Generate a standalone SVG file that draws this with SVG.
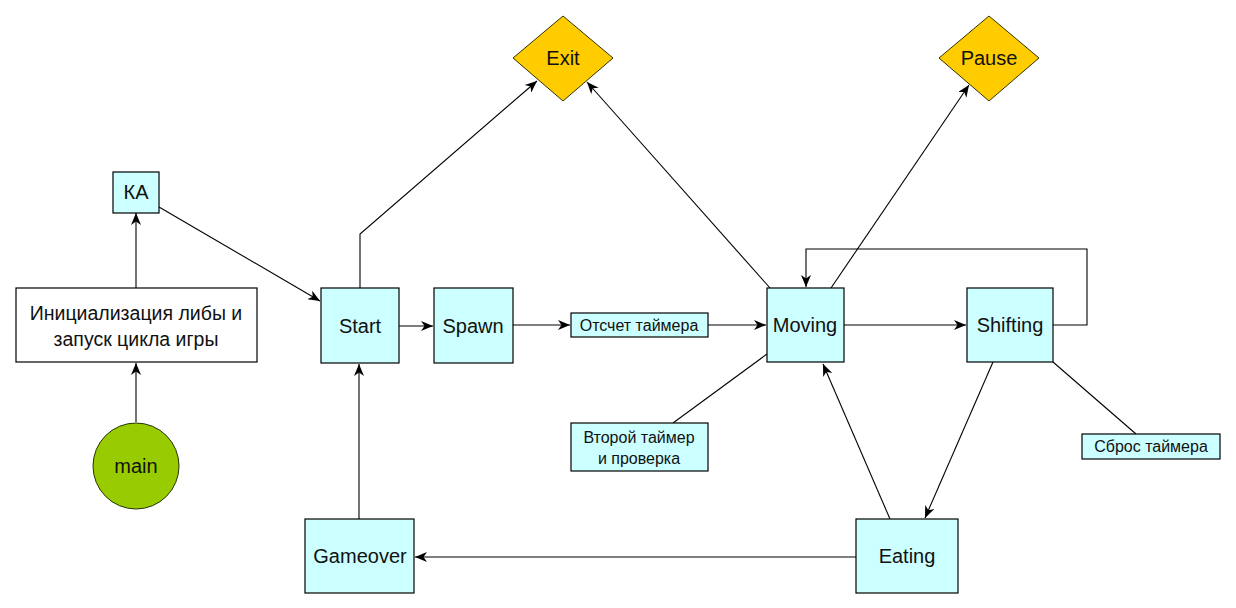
<svg xmlns="http://www.w3.org/2000/svg" width="1236" height="608" viewBox="0 0 1236 608">
  <style>
    .box { fill: #ccffff; stroke: #000; stroke-width: 1.2; }
    .plain { fill: #ffffff; stroke: #000; stroke-width: 1.2; }
    .dia { fill: #ffcc00; stroke: #333300; stroke-width: 1; }
    .circ { fill: #99cc00; stroke: #223300; stroke-width: 1; }
    .lbl { font-family: "Liberation Sans", Arial, sans-serif; font-size: 20px; fill: #111; text-anchor: middle; }
    .mid { font-family: "Liberation Sans", Arial, sans-serif; font-size: 19.5px; fill: #111; text-anchor: middle; }
    .sm { font-family: "Liberation Sans", Arial, sans-serif; font-size: 16px; fill: #111; text-anchor: middle; }
    .con { fill: none; stroke: #000; stroke-width: 1.1; }
    .arr { marker-end: url(#ah); }
  </style>
  <defs>
    <marker id="ah" viewBox="0 0 12 10" refX="12" refY="5" markerWidth="13" markerHeight="10" markerUnits="userSpaceOnUse" orient="auto">
      <path d="M0,0 L12,5 L0,10 L3.5,5 Z" fill="#000"/>
    </marker>
  </defs>
  <rect width="1236" height="608" fill="#ffffff"/>

  <g id="connectors">
    <line class="con arr" x1="136" y1="422" x2="136" y2="363"/>
    <line class="con arr" x1="136" y1="288" x2="136" y2="213"/>
    <line class="con arr" x1="159" y1="207" x2="320" y2="301"/>
    <polyline class="con arr" points="360,288 360,234 537,81"/>
    <line class="con arr" x1="399" y1="326" x2="433" y2="326"/>
    <line class="con arr" x1="513" y1="325" x2="570" y2="325"/>
    <line class="con arr" x1="708" y1="325" x2="766" y2="325"/>
    <line class="con arr" x1="770" y1="288" x2="587" y2="82"/>
    <line class="con arr" x1="831" y1="288" x2="969" y2="85"/>
    <line class="con arr" x1="844" y1="325" x2="966" y2="325"/>
    <polyline class="con arr" points="1053,325 1087,325 1087,249 806,249 806,287"/>
    <line class="con arr" x1="993" y1="362" x2="925" y2="518"/>
    <line class="con arr" x1="890" y1="519" x2="823" y2="364"/>
    <line class="con arr" x1="856" y1="557" x2="415" y2="557"/>
    <line class="con arr" x1="359" y1="519" x2="359" y2="364"/>
    <line class="con" x1="673" y1="423" x2="767" y2="354"/>
    <line class="con" x1="1053" y1="362" x2="1136" y2="434"/>
  </g>

  <g id="main">
    <circle class="circ" cx="136" cy="466" r="43"/>
    <text class="lbl" x="136" y="473">main</text>
  </g>
  <g id="init">
    <rect class="plain" x="16" y="288" width="241" height="74"/>
    <text class="mid" x="136" y="320">Инициализация либы и</text>
    <text class="mid" x="136" y="346">запуск цикла игры</text>
  </g>
  <g id="ka">
    <rect class="box" x="113" y="172" width="46" height="41"/>
    <text class="lbl" x="136" y="199">КА</text>
  </g>
  <g id="start">
    <rect class="box" x="321" y="288" width="78" height="75"/>
    <text class="lbl" x="360" y="333">Start</text>
  </g>
  <g id="spawn">
    <rect class="box" x="434" y="288" width="79" height="75"/>
    <text class="lbl" x="473" y="333">Spawn</text>
  </g>
  <g id="timer">
    <rect class="box" x="571" y="313" width="137" height="24"/>
    <text class="sm" x="639" y="331">Отсчет таймера</text>
  </g>
  <g id="moving">
    <rect class="box" x="767" y="288" width="77" height="74"/>
    <text class="lbl" x="805" y="332">Moving</text>
  </g>
  <g id="shifting">
    <rect class="box" x="967" y="288" width="86" height="74"/>
    <text class="lbl" x="1010" y="332">Shifting</text>
  </g>
  <g id="second-timer">
    <rect class="box" x="571" y="423" width="137" height="48"/>
    <text class="sm" x="639" y="443">Второй таймер</text>
    <text class="sm" x="639" y="464">и проверка</text>
  </g>
  <g id="reset-timer">
    <rect class="box" x="1082" y="434" width="138" height="25"/>
    <text class="sm" x="1151" y="452">Сброс таймера</text>
  </g>
  <g id="eating">
    <rect class="box" x="856" y="519" width="102" height="74"/>
    <text class="lbl" x="907" y="563">Eating</text>
  </g>
  <g id="gameover">
    <rect class="box" x="305" y="519" width="109" height="74"/>
    <text class="lbl" x="360" y="563">Gameover</text>
  </g>
  <g id="exit">
    <polygon class="dia" points="563,16 613,58 563,101 513,58"/>
    <text class="lbl" x="563" y="65">Exit</text>
  </g>
  <g id="pause">
    <polygon class="dia" points="989,16 1039,58 989,101 939,58"/>
    <text class="lbl" x="989" y="65">Pause</text>
  </g>
</svg>
